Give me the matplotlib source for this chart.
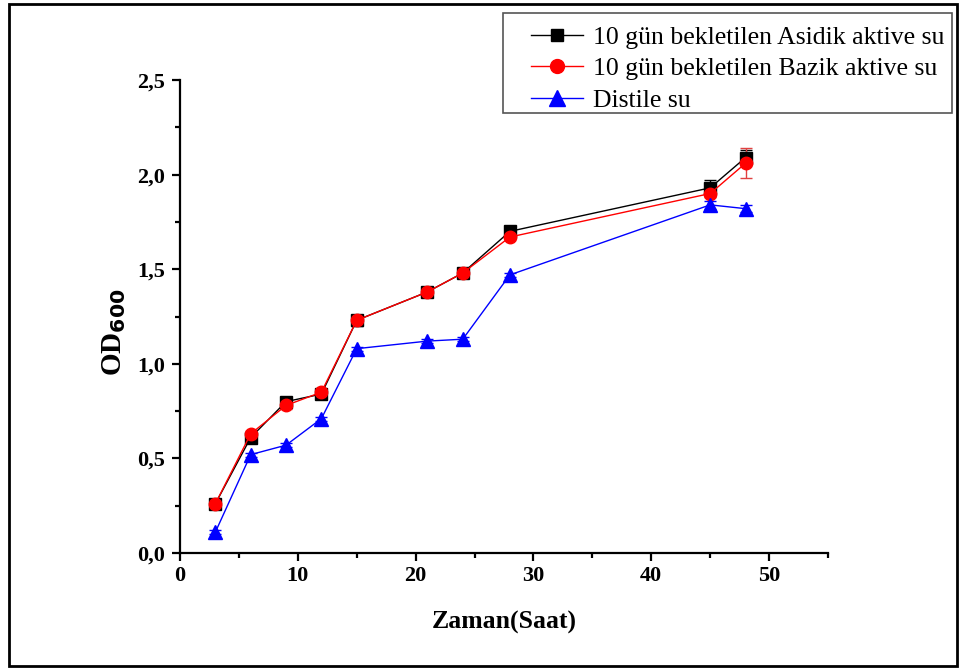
import matplotlib
matplotlib.use("Agg")
import matplotlib.pyplot as plt
from matplotlib.ticker import MultipleLocator, FuncFormatter
from matplotlib.patches import Rectangle
from matplotlib.lines import Line2D

time_h = [3, 6, 9, 12, 15, 21, 24, 28, 45, 48]
asidik = [0.26, 0.61, 0.80, 0.84, 1.23, 1.38, 1.48, 1.70, 1.93, 2.09]
asidik_err = [0.015, 0.015, 0.015, 0.01, 0.03, 0.01, 0.01, 0.01, 0.04, 0.04]
bazik = [0.26, 0.63, 0.78, 0.85, 1.23, 1.38, 1.48, 1.67, 1.90, 2.06]
bazik_err = [0.015, 0.015, 0.02, 0.01, 0.02, 0.01, 0.01, 0.01, 0.02, 0.08]
distile = [0.11, 0.52, 0.57, 0.71, 1.08, 1.12, 1.13, 1.47, 1.84, 1.82]
distile_err = [0.01, 0.01, 0.01, 0.01, 0.01, 0.01, 0.01, 0.01, 0.02, 0.02]

labels = ["10 gün bekletilen Asidik aktive su",
          "10 gün bekletilen Bazik aktive su",
          "Distile su"]

plt.rcParams['font.family'] = ['Liberation Serif', 'DejaVu Serif']

fig = plt.figure(figsize=(9.62, 6.68), dpi=100)
ax = fig.add_axes([180/962, 115/668, 648/962, 473/668])

styles = [('black', 's', 8, 'black'), ('red', 'o', 9, '#e04040'), ('blue', '^', 10, 'blue')]
series = [(asidik, asidik_err), (bazik, bazik_err), (distile, distile_err)]
handles = []
for (vals, errs), (c, m, ms, ec), lab in zip(series, styles, labels):
    ax.errorbar(time_h, vals, yerr=errs, color=c, marker=m, ms=ms, lw=1,
                capsize=4, elinewidth=1, ecolor=ec)
    handles.append(Line2D([], [], color=c, marker=m, ms=ms + 1, lw=1))

ax.set_xlim(0, 55)
ax.set_ylim(0, 2.5)
ax.xaxis.set_major_locator(MultipleLocator(10))
ax.xaxis.set_minor_locator(MultipleLocator(5))
ax.yaxis.set_major_locator(MultipleLocator(0.5))
ax.yaxis.set_minor_locator(MultipleLocator(0.25))
ax.yaxis.set_major_formatter(FuncFormatter(lambda v, p: f"{v:.1f}".replace('.', ',')))
ax.spines['top'].set_visible(False)
ax.spines['right'].set_visible(False)
for s in ['left', 'bottom']:
    ax.spines[s].set_linewidth(1.6)
ax.tick_params(which='major', direction='out', length=6, width=1.6, labelsize=16)
ax.tick_params(axis='y', which='major', pad=5)
ax.tick_params(which='minor', direction='out', length=3.5, width=1.6)
for t in ax.get_xticklabels() + ax.get_yticklabels():
    t.set_fontweight('bold')

ax.set_xlabel("Zaman(Saat)", fontsize=18.5, fontweight='bold', labelpad=18)
ax.set_ylabel(r"OD$_{\mathbf{600}}$", fontsize=21, fontweight='bold')
ax.yaxis.set_label_coords(-0.081, 0.467)

leg = fig.legend(handles=handles, labels=labels, loc='upper left',
                 bbox_to_anchor=(526/962, 1 - 21/668), fontsize=18.5, frameon=False,
                 handlelength=2.0, borderpad=0.2, labelspacing=0.32, handletextpad=0.4,
                 borderaxespad=0)

fig.patches.append(Rectangle((503/962, 1 - 113/668), 449/962, 100/668, transform=fig.transFigure,
                             fill=False, edgecolor='#555555', linewidth=1.2))
fig.patches.append(Rectangle((9/962, 1 - 666/668), 948/962, 662/668, transform=fig.transFigure,
                             fill=False, edgecolor='black', linewidth=2))

fig.savefig("out.png", dpi=100)
